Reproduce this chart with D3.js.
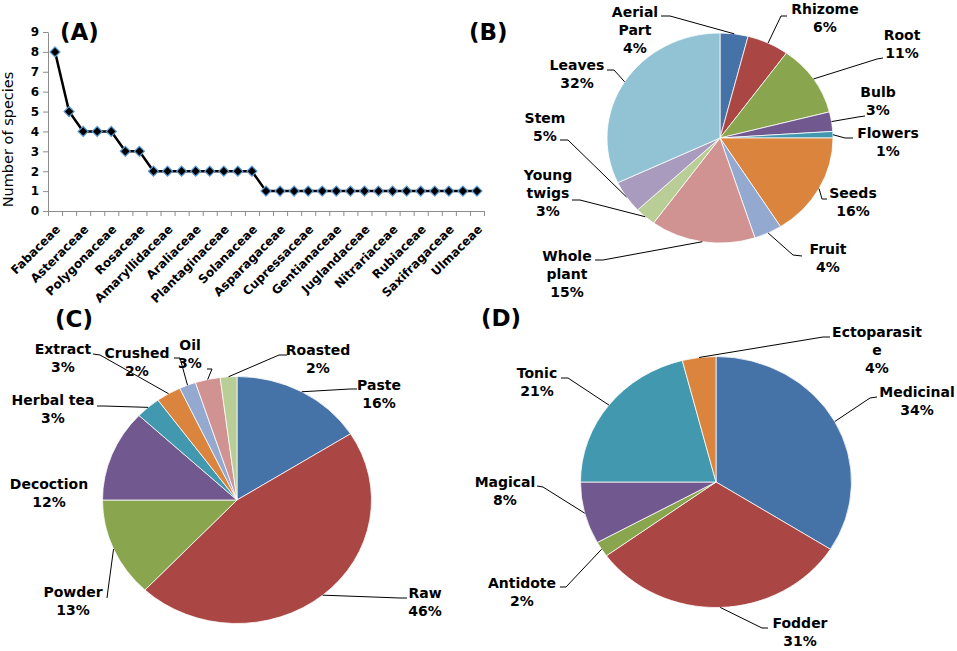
<!DOCTYPE html>
<html>
<head>
<meta charset="utf-8">
<script src="https://cdn.jsdelivr.net/npm/d3@7"></script>
<style>
  body { margin: 0; background: #fff; }
  text { font-family: 'DejaVu Sans', sans-serif; fill: #000; }
</style>
</head>
<body>
<svg id="figure" width="957" height="651"></svg>
<script>
// (A) families, labelled every second category as in the source
const familyLabels = ['Fabaceae', 'Asteraceae', 'Polygonaceae', 'Rosaceae', 'Amaryllidaceae',
  'Araliaceae', 'Plantaginaceae', 'Solanaceae', 'Asparagaceae', 'Cupressaceae', 'Gentianaceae',
  'Juglandaceae', 'Nitrariaceae', 'Rubiaceae', 'Saxifragaceae', 'Ulmaceae']
const speciesCounts = [8, 5, 4, 4, 4, 3, 3, 2, 2, 2, 2, 2, 2, 2, 2,
  1, 1, 1, 1, 1, 1, 1, 1, 1, 1, 1, 1, 1, 1, 1, 1]
const speciesTicks = [0, 1, 2, 3, 4, 5, 6, 7, 8, 9]

// (B) plant parts used
const plantParts = ['Aerial Part', 'Rhizome', 'Root', 'Bulb', 'Flowers', 'Seeds', 'Fruit',
  'Whole plant', 'Young twigs', 'Stem', 'Leaves']
const plantPartShares = [4, 6, 11, 3, 1, 16, 4, 15, 3, 5, 32]

// (C) preparation modes
const preparations = ['Paste', 'Raw', 'Powder', 'Decoction', 'Herbal tea', 'Extract', 'Crushed', 'Oil', 'Roasted']
const preparationShares = [16, 46, 13, 12, 3, 3, 2, 3, 2]

// (D) uses
const uses = ['Medicinal', 'Fodder', 'Antidote', 'Magical', 'Tonic', 'Ectoparasite']
const useShares = [34, 31, 2, 8, 21, 4]

const sliceColors = ['#4572a7', '#aa4643', '#89a54e', '#71588f', '#4198af', '#db843d',
  '#93a9cf', '#d19392', '#b9cd96', '#a99bbd', '#92c3d4']
const useColors = ['#4572a7', '#aa4643', '#89a54e', '#71588f', '#4198af', '#db843d']

// label placement, one entry per slice (first line centre, leader start, elbow)
const partSpots = [
  {x: 635, y: 12, lines: ['Aerial', 'Part'], from: [661, 16], elbow: [670, 16]},
  {x: 825, y: 9, from: [787, 16], elbow: [781, 16]},
  {x: 902, y: 35, from: [883, 58], elbow: [877, 59]},
  {x: 878, y: 92, from: [865, 116], elbow: [858, 117]},
  {x: 888, y: 133, from: [853, 138], elbow: [845, 138]},
  {x: 853, y: 193, from: [827, 199], elbow: [822, 199]},
  {x: 828, y: 249, from: [802, 256], elbow: [793, 255]},
  {x: 567, y: 256, lines: ['Whole', 'plant'], from: [595, 260], elbow: [603, 260]},
  {x: 548, y: 175, lines: ['Young', 'twigs'], from: [572, 200], elbow: [580, 200]},
  {x: 545, y: 118, from: [560, 140], elbow: [568, 140]},
  {x: 577, y: 65, from: [607, 70], elbow: [614, 70]}
]
const preparationSpots = [
  {x: 379, y: 385, from: [357, 389], elbow: [350, 389]},
  {x: 425, y: 593, from: [407, 598], elbow: [400, 598]},
  {x: 73, y: 592, from: [107, 598], elbow: [108, 590]},
  {x: 49, y: 484},
  {x: 53, y: 400, from: [97, 406], elbow: [104, 406]},
  {x: 63, y: 349, from: [93, 354], elbow: [100, 355]},
  {x: 137, y: 353, from: [174, 358], elbow: [180, 358]},
  {x: 190, y: 345, from: [207, 369], elbow: [212, 369]},
  {x: 318, y: 350, from: [287, 355], elbow: [279, 355]}
]
const useSpots = [
  {x: 917, y: 392, from: [877, 397], elbow: [870, 398]},
  {x: 800, y: 623, from: [768, 628], elbow: [762, 628]},
  {x: 522, y: 583, from: [560, 587], elbow: [566, 587]},
  {x: 505, y: 482, from: [537, 486], elbow: [543, 487]},
  {x: 537, y: 373, from: [561, 378], elbow: [568, 378]},
  {x: 877, y: 332, lines: ['Ectoparasit', 'e'], from: [830, 337], elbow: [823, 337]}
]

const svg = d3.select('#figure')

function panelTitle(text, x, y) {
  svg.append('text')
    .attr('x', x)
    .attr('y', y)
    .attr('font-size', 23)
    .attr('font-weight', 'bold')
    .text(text)
}

function drawFamilies() {
  const left = 48, right = 484, top = 32, bottom = 211
  const x = d3.scaleLinear().domain([0, speciesCounts.length]).range([left, right])
  const y = d3.scaleLinear().domain([0, 9]).range([bottom, top])
  const g = svg.append('g')

  const yAxis = g.append('g')
    .attr('transform', `translate(${left}, 0)`)
    .call(d3.axisLeft(y).tickValues(speciesTicks).tickSize(5).tickSizeOuter(0).tickPadding(4))
  yAxis.selectAll('text').attr('font-size', 12).attr('font-weight', 'bold')
    .style('font-family', "'DejaVu Sans', sans-serif")

  g.append('g')
    .attr('transform', `translate(0, ${bottom})`)
    .call(d3.axisBottom(x).tickValues(d3.range(speciesCounts.length + 1)).tickSize(5)
      .tickSizeOuter(0).tickFormat(''))

  g.selectAll('.domain, .tick line').attr('stroke', '#8c8c8c')

  const centre = i => x(i + 0.5)

  g.selectAll('.family')
    .data(familyLabels)
    .enter()
    .append('text')
    .attr('class', 'family')
    .attr('transform', (d, i) => `translate(${centre(i * 2) + 3}, 227) rotate(-45)`)
    .attr('text-anchor', 'end')
    .attr('dy', '0.35em')
    .attr('font-size', 12)
    .attr('font-weight', 'bold')
    .text(d => d)

  g.append('text')
    .attr('transform', `translate(13, ${(top + bottom) / 2 + 18}) rotate(-90)`)
    .attr('text-anchor', 'middle')
    .attr('font-size', 14.5)
    .text('Number of species')

  const line = d3.line()
    .x((d, i) => centre(i))
    .y(d => y(d))

  g.append('path')
    .datum(speciesCounts)
    .attr('fill', 'none')
    .attr('stroke', '#000')
    .attr('stroke-width', 2.5)
    .attr('d', line)

  g.selectAll('.marker')
    .data(speciesCounts)
    .enter()
    .append('path')
    .attr('class', 'marker')
    .attr('d', d3.symbol(d3.symbolSquare, 50))
    .attr('transform', (d, i) => `translate(${centre(i)}, ${y(d)}) rotate(45)`)
    .attr('fill', '#000')
    .attr('stroke', '#5b9bd5')
    .attr('stroke-width', 1.2)
}

function drawPie(names, shares, colors, spots, shape) {
  const {cx, cy, rx, ry} = shape
  const slices = d3.pie().sort(null).value(d => d)(shares)
  const arc = d3.arc().innerRadius(0).outerRadius(rx)

  svg.append('g')
    .attr('transform', `translate(${cx}, ${cy}) scale(1, ${ry / rx})`)
    .selectAll('path')
    .data(slices)
    .enter()
    .append('path')
    .attr('d', arc)
    .attr('fill', (d, i) => colors[i])
    .attr('stroke', '#fff')
    .attr('stroke-width', 0.8)

  const labels = svg.append('g')
  slices.forEach((slice, i) => {
    const spot = spots[i]
    const mid = (slice.startAngle + slice.endAngle) / 2
    const anchor = [cx + rx * Math.sin(mid), cy - ry * Math.cos(mid)]

    if (spot.from) {
      labels.append('path')
        .attr('d', d3.line()([spot.from, spot.elbow, anchor]))
        .attr('fill', 'none')
        .attr('stroke', '#000')
        .attr('stroke-width', 1)
    }

    const lines = (spot.lines || [names[i]]).concat(`${shares[i]}%`)
    const text = labels.append('text')
      .attr('text-anchor', 'middle')
      .attr('font-size', 14)
      .attr('font-weight', 'bold')
    lines.forEach((content, row) => {
      text.append('tspan')
        .attr('x', spot.x)
        .attr('y', spot.y + row * 18)
        .attr('dy', '0.36em')
        .text(content)
    })
  })
}

drawFamilies()
drawPie(plantParts, plantPartShares, sliceColors, partSpots, {cx: 720, cy: 138, rx: 113, ry: 105})
drawPie(preparations, preparationShares, sliceColors, preparationSpots, {cx: 237, cy: 500, rx: 134.5, ry: 123.5})
drawPie(uses, useShares, useColors, useSpots, {cx: 716, cy: 482, rx: 135.5, ry: 125.5})

panelTitle('(A)', 60, 40)
panelTitle('(B)', 469, 40)
panelTitle('(C)', 55, 327)
panelTitle('(D)', 481, 326)
</script>
</body>
</html>
